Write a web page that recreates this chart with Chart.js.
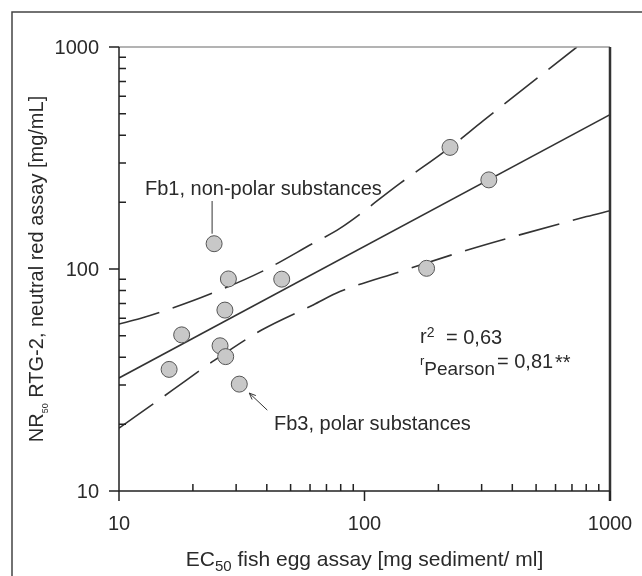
<!DOCTYPE html>
<html><head><meta charset="utf-8">
<script src="https://cdn.jsdelivr.net/npm/chart.js@4.4.1/dist/chart.umd.min.js"></script>
<style>html,body{margin:0;padding:0;background:#fff;}#wrap{width:642px;height:576px;position:relative;}</style>
</head><body><div id="wrap"><canvas id="c" width="642" height="576"></canvas></div>
<script>
// Measured samples (EC50 fish egg assay vs NR50 RTG-2)
const sampleX = [16.0, 18.0, 24.4, 25.8, 27.0, 27.2, 27.9, 30.9, 46.0, 179, 223, 321];
const sampleY = [35.3, 50.5, 130, 45.1, 65.3, 40.3, 90.2, 30.3, 90.0, 100.7, 353, 252];
// Regression line
const fitX = [10, 1000];
const fitY = [32.3, 496];
// Upper confidence band (dashed)
const upperX = [10, 12.2, 16.4, 23.5, 38.1, 61.8, 79.4, 139.5, 223, 304, 733];
const upperY = [56.5, 59.8, 66.5, 77.1, 97.3, 130.6, 152.4, 243, 353, 465, 1000];
// Lower confidence band (dashed)
const lowerX = [10, 16.4, 23.5, 38.1, 61.8, 79.4, 139.5, 269, 436, 803, 1000];
const lowerY = [19.2, 28.3, 37.6, 53.1, 68.9, 79.1, 97.3, 122.8, 143.2, 172.2, 183];
// Axis ticks
const xTickValues = [10, 100, 1000];
const xTickLabels = ['10', '100', '1000'];
const yTickValues = [10, 100, 1000];
const yTickLabels = ['10', '100', '1000'];
const minorSteps = [2, 3, 4, 5, 6, 7, 8, 9];

const FONT = '"Liberation Sans", Arial, Helvetica, sans-serif';
const INK = '#2a2a2a';

function pts(xs, ys) { return xs.map((x, i) => ({x: x, y: ys[i]})); }

function drawRuns(ctx, runs, x, y, align) {
  let total = 0;
  runs.forEach(r => { ctx.font = r.size + 'px ' + FONT; r.w = ctx.measureText(r.t).width; total += r.w; });
  let cx = align === 'center' ? x - total / 2 : x;
  ctx.textAlign = 'left';
  ctx.textBaseline = 'alphabetic';
  runs.forEach(r => { ctx.font = r.size + 'px ' + FONT; ctx.fillText(r.t, cx, y + (r.dy || 0)); cx += r.w; });
}

const decor = {
  id: 'decor',
  afterDraw(chart) {
    const ctx = chart.ctx;
    const xs = chart.scales.x, ys = chart.scales.y;
    const L = xs.getPixelForValue(10), R = xs.getPixelForValue(1000);
    const T = ys.getPixelForValue(1000), B = ys.getPixelForValue(10);
    ctx.save();
    // outer frame
    ctx.strokeStyle = '#444'; ctx.lineWidth = 1.5;
    ctx.beginPath(); ctx.moveTo(12, 576); ctx.lineTo(12, 12); ctx.lineTo(642, 12); ctx.stroke();
    // top border of plot
    ctx.strokeStyle = '#9a9a9a'; ctx.lineWidth = 1.5;
    ctx.beginPath(); ctx.moveTo(L, T); ctx.lineTo(R, T); ctx.stroke();
    // right border
    ctx.strokeStyle = '#333'; ctx.lineWidth = 2.5;
    ctx.beginPath(); ctx.moveTo(R, T); ctx.lineTo(R, B + 10); ctx.stroke();
    // left & bottom axes
    ctx.strokeStyle = '#222'; ctx.lineWidth = 1.5;
    ctx.beginPath(); ctx.moveTo(L, T); ctx.lineTo(L, B); ctx.lineTo(R, B); ctx.stroke();
    // ticks
    ctx.beginPath();
    [10, 100].forEach(d => minorSteps.forEach(m => {
      const py = ys.getPixelForValue(m * d);
      ctx.moveTo(L, py); ctx.lineTo(L + 7, py);
      const px = xs.getPixelForValue(m * d);
      ctx.moveTo(px, B); ctx.lineTo(px, B - 7);
    }));
    yTickValues.forEach(v => { const py = ys.getPixelForValue(v); ctx.moveTo(L - 10, py); ctx.lineTo(L, py); });
    xTickValues.forEach(v => { const px = xs.getPixelForValue(v); ctx.moveTo(px, B); ctx.lineTo(px, B + 10); });
    ctx.stroke();
    // tick labels
    ctx.fillStyle = INK;
    ctx.font = '20px ' + FONT;
    ctx.textAlign = 'right'; ctx.textBaseline = 'middle';
    yTickValues.forEach((v, i) => ctx.fillText(yTickLabels[i], L - 20, ys.getPixelForValue(v) + 1));
    ctx.textAlign = 'center'; ctx.textBaseline = 'alphabetic';
    xTickValues.forEach((v, i) => ctx.fillText(xTickLabels[i], xs.getPixelForValue(v), 530));
    // x title
    drawRuns(ctx, [{t: 'EC', size: 21}, {t: '50', size: 15, dy: 5}, {t: ' fish egg assay [mg sediment/ ml]', size: 21}], (L + R) / 2, 566, 'center');
    // y title
    ctx.save();
    ctx.translate(43, (T + B) / 2);
    ctx.rotate(-Math.PI / 2);
    drawRuns(ctx, [{t: 'NR', size: 20}, {t: '50', size: 9, dy: 5}, {t: ' RTG-2, neutral red assay [mg/mL]', size: 20}], 0, 0, 'center');
    ctx.restore();
    // annotations
    ctx.font = '20px ' + FONT; ctx.textAlign = 'left'; ctx.textBaseline = 'alphabetic';
    ctx.fillText('Fb1, non-polar substances', 145, 195);
    ctx.fillText('Fb3, polar substances', 274, 430);
    const p3x = xs.getPixelForValue(sampleX[2]), p3y = ys.getPixelForValue(sampleY[2]);
    ctx.strokeStyle = '#333'; ctx.lineWidth = 1;
    ctx.beginPath(); ctx.moveTo(p3x - 2, 201); ctx.lineTo(p3x - 2, p3y - 10); ctx.stroke();
    // arrow to Fb3 point
    const p8x = xs.getPixelForValue(sampleX[7]), p8y = ys.getPixelForValue(sampleY[7]);
    const tx = p8x + 10, ty = p8y + 9, fx = p8x + 28, fy = p8y + 26;
    ctx.beginPath(); ctx.moveTo(fx, fy); ctx.lineTo(tx, ty);
    const ang = Math.atan2(ty - fy, tx - fx);
    ctx.moveTo(tx, ty); ctx.lineTo(tx - 7 * Math.cos(ang - 0.4), ty - 7 * Math.sin(ang - 0.4));
    ctx.moveTo(tx, ty); ctx.lineTo(tx - 7 * Math.cos(ang + 0.4), ty - 7 * Math.sin(ang + 0.4));
    ctx.stroke();
    // statistics
    ctx.fillStyle = INK;
    drawRuns(ctx, [{t: 'r', size: 20}, {t: '2', size: 14, dy: -6}], 420, 343, 'left');
    ctx.font = '20px ' + FONT; ctx.fillText('= 0,63', 446, 344);
    drawRuns(ctx, [{t: 'r', size: 13, dy: -4}, {t: 'Pearson', size: 19, dy: 6}], 420, 369, 'left');
    ctx.font = '20px ' + FONT; ctx.fillText('= 0,81', 497, 368);
    ctx.font = '20px ' + FONT; ctx.fillText('**', 555, 369);
    ctx.restore();
  }
};

new Chart(document.getElementById('c'), {
  type: 'scatter',
  data: {
    datasets: [
      {data: pts(sampleX, sampleY), pointRadius: 8, pointBackgroundColor: '#c8c8c8', pointBorderColor: '#555', pointBorderWidth: 1, showLine: false, order: 0},
      {data: pts(fitX, fitY), showLine: true, pointRadius: 0, borderColor: '#333', borderWidth: 1.6, order: 1},
      {data: pts(upperX, upperY), showLine: true, pointRadius: 0, borderColor: '#333', borderWidth: 1.6, borderDash: [42, 14], tension: 0.4, cubicInterpolationMode: 'monotone', order: 2},
      {data: pts(lowerX, lowerY), showLine: true, pointRadius: 0, borderColor: '#333', borderWidth: 1.6, borderDash: [42, 14], tension: 0.4, cubicInterpolationMode: 'monotone', order: 3}
    ]
  },
  options: {
    responsive: false,
    animation: false,
    layout: {padding: {left: 119, right: 32, top: 47, bottom: 85}},
    scales: {
      x: {type: 'logarithmic', min: 10, max: 1000, display: false},
      y: {type: 'logarithmic', min: 10, max: 1000, display: false}
    },
    plugins: {legend: {display: false}, tooltip: {enabled: false}}
  },
  plugins: [decor]
});
</script></body></html>
